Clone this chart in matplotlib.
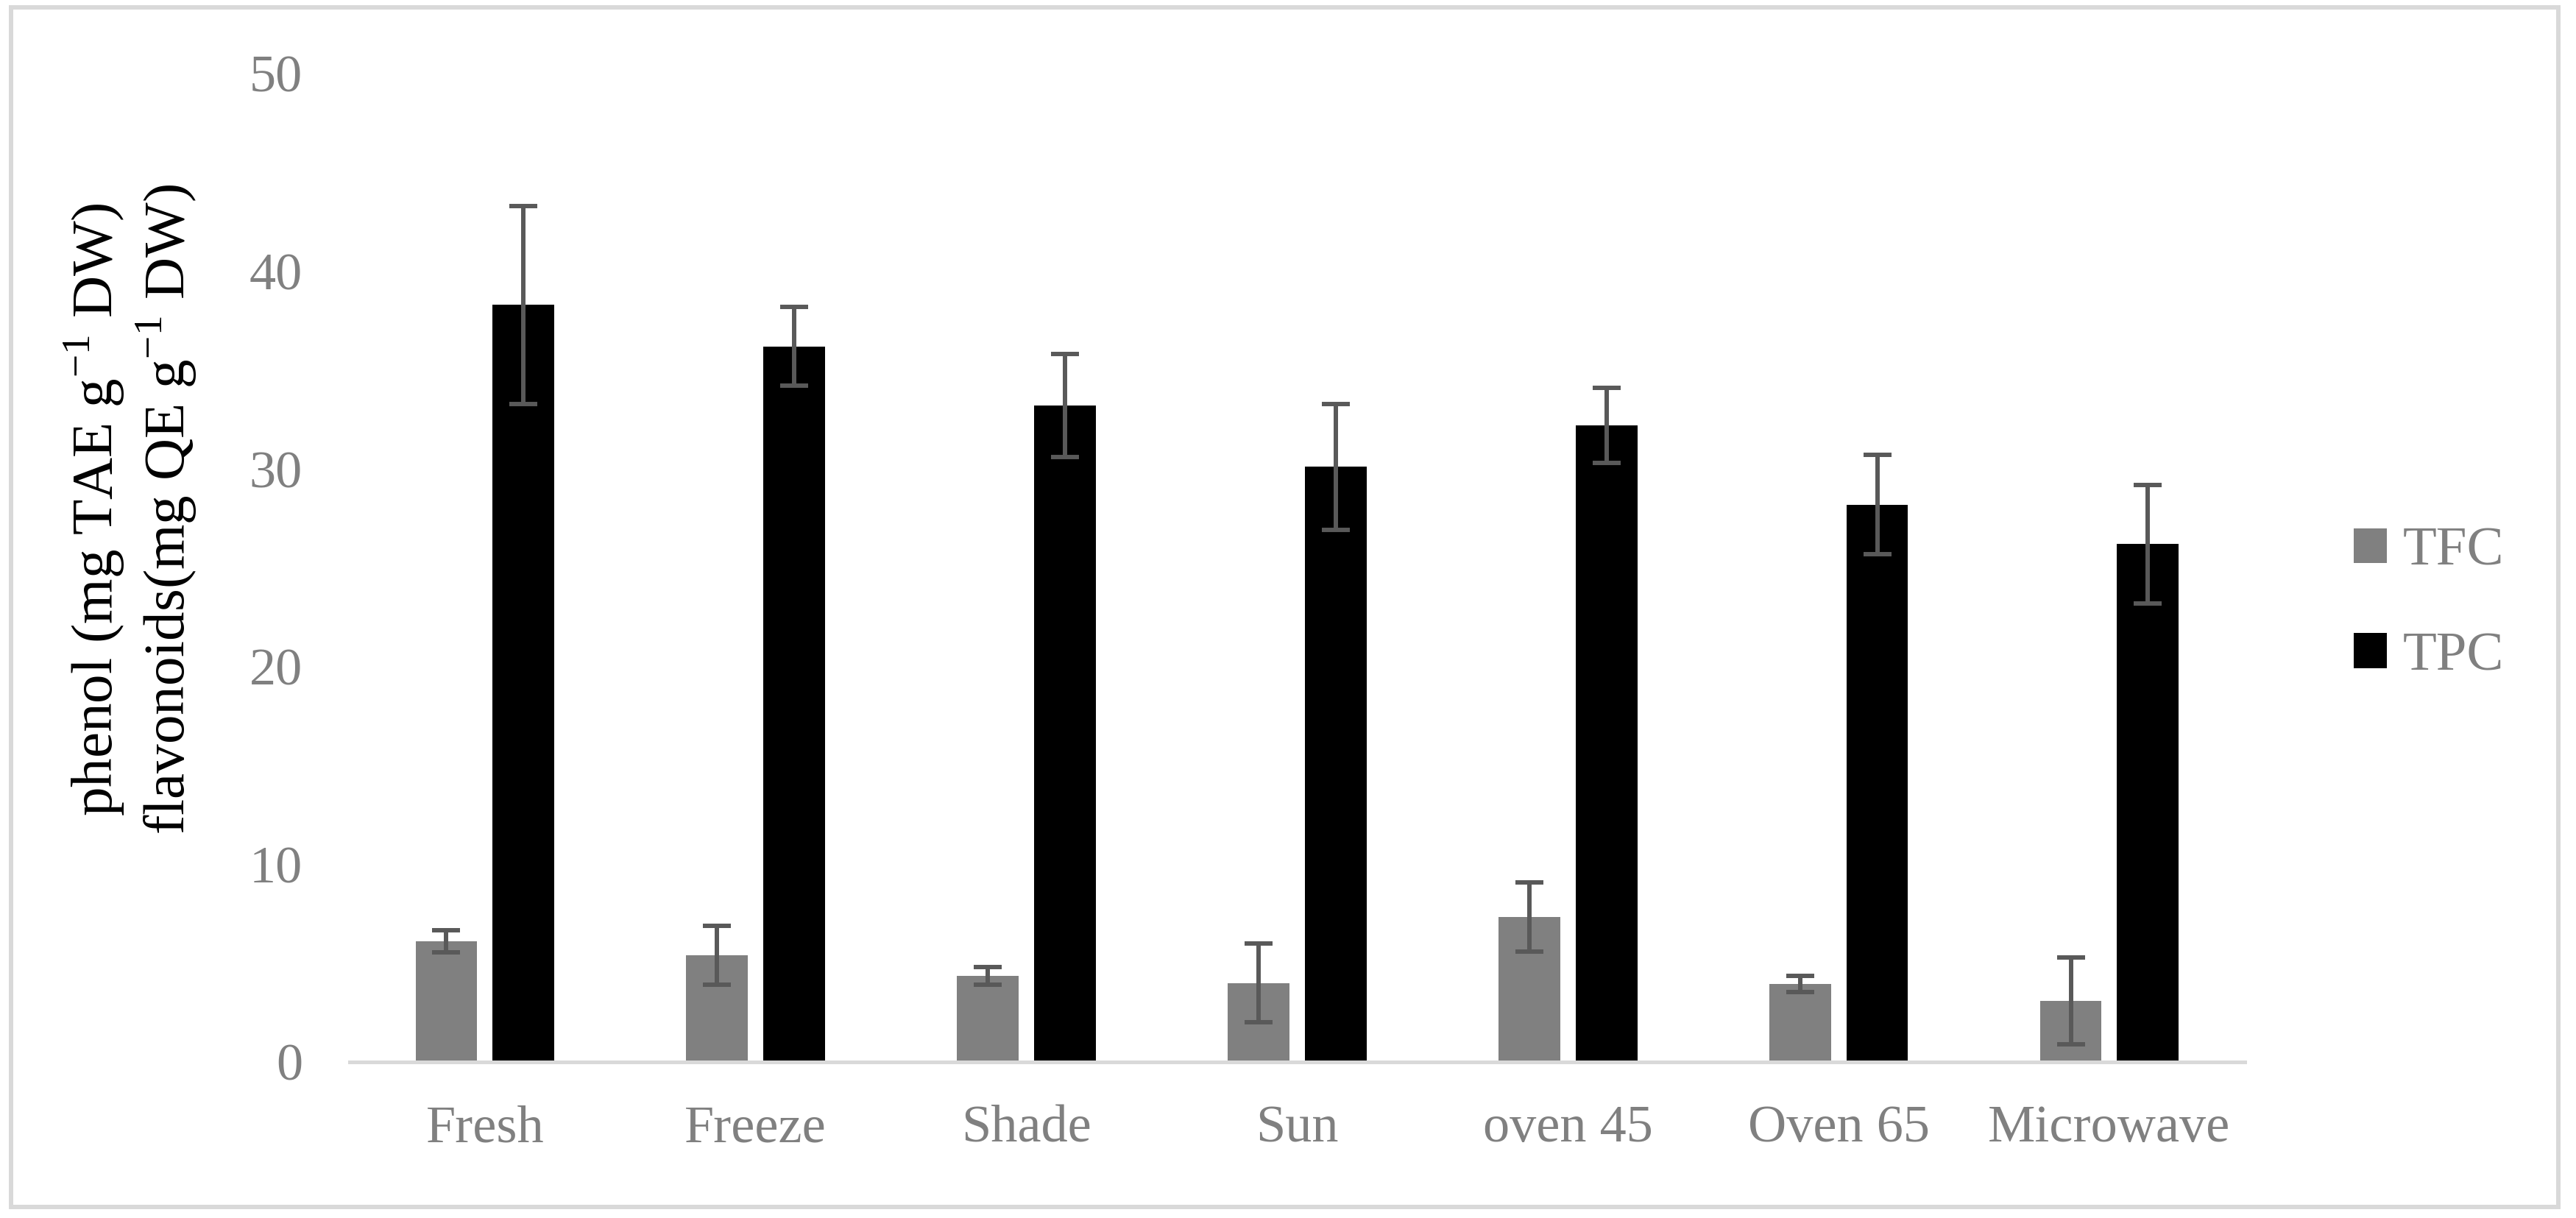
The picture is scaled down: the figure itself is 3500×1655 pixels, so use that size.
import numpy as np
import matplotlib.pyplot as plt
from matplotlib.patches import Rectangle

categories = ["Fresh", "Freeze", "Shade", "Sun", "oven 45", "Oven 65", "Microwave"]
tfc = [6.1, 5.4, 4.35, 4.0, 7.35, 3.95, 3.1]
tfc_err = [0.55, 1.5, 0.45, 2.0, 1.75, 0.4, 2.2]
tpc = [38.3, 36.2, 33.2, 30.1, 32.2, 28.2, 26.2]
tpc_err = [5.0, 2.0, 2.6, 3.2, 1.9, 2.5, 3.0]

plt.rcParams['font.family'] = ['Liberation Serif', 'DejaVu Serif']
plt.rcParams['mathtext.fontset'] = 'custom'
plt.rcParams['mathtext.rm'] = 'Liberation Serif'

fig = plt.figure(figsize=(35, 16.55), dpi=100)
ax = fig.add_axes([0.1357, 0.1281, 0.7357, 0.8115])

x = np.arange(len(categories))
w = 0.228
off = (w + 0.057) / 2
err_kw = dict(ecolor="#595959", elinewidth=4.3, capsize=13.7, capthick=4.3)

ax.bar(x - off, tfc, w, yerr=tfc_err, color="#808080", label="TFC", error_kw=err_kw)
ax.bar(x + off, tpc, w, yerr=tpc_err, color="black", label="TPC", error_kw=err_kw)

ax.set_xlim(-0.5, len(categories) - 0.5)
ax.set_ylim(0, 50)
ax.set_yticks(range(0, 51, 10))
ax.set_xticks(x)
ax.set_xticklabels(categories)
ax.tick_params(axis="both", length=0, labelsize=52, labelcolor="#808080")
ax.tick_params(axis="y", pad=46)
ax.tick_params(axis="x", pad=42)
for s in ["top", "right", "left"]:
    ax.spines[s].set_visible(False)
ax.spines["bottom"].set_color("#d9d9d9")
ax.spines["bottom"].set_linewidth(3.6)

fig.text(0.0506, 0.5819,
         "phenol (mg TAE g$^{\\mathregular{-1}}$ DW)\nflavonoids(mg QE g$^{\\mathregular{-1}}$ DW)",
         rotation=90, ha="center", va="center", multialignment="center",
         fontsize=57, color="black", linespacing=1.15)

leg = fig.legend(loc="center left", bbox_to_anchor=(0.905, 0.5037), frameon=False,
                 fontsize=54, handlelength=0.6, handleheight=0.6, handletextpad=0.3,
                 labelspacing=1.0, borderaxespad=0)
for t in leg.get_texts():
    t.set_color("#808080")

fig.patches.append(Rectangle((0.0043, 0.0091), 0.9889, 0.9849, transform=fig.transFigure,
                             fill=False, edgecolor="#d9d9d9", linewidth=4.3))

fig.savefig("out.png", dpi=100)
